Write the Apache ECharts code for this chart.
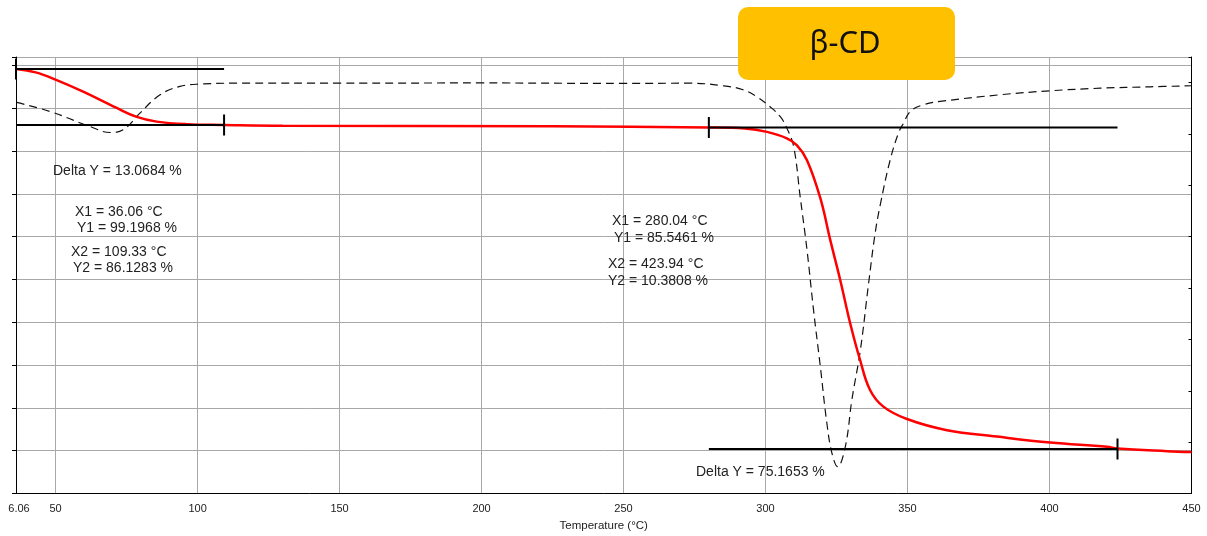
<!DOCTYPE html>
<html>
<head>
<meta charset="utf-8">
<script src="https://cdn.jsdelivr.net/npm/echarts@6/dist/echarts.min.js"></script>
<style>
html,body{margin:0;padding:0;background:#fff;}
#chart{width:1207px;height:536px;}
</style>
</head>
<body>
<div id="chart"></div>
<script>
// ---- Data ----
// TGA curve (weight %, left axis)
const tgaTemp = [36.06, 43, 50.4, 59.7, 71.5, 78.6, 85.6, 96.2, 109.3, 130, 225, 280, 292.8, 300.5, 307.5, 311.0, 314.6, 319.3, 322.8, 326.3, 329.8, 333.3, 336.8, 341.5, 349.8, 363.9, 381.5, 400.3, 420.3, 423.9, 441.4, 450];
const tgaWeight = [99.2, 98.4, 96.6, 93.9, 90.1, 88.0, 86.9, 86.3, 86.13, 85.95, 85.8, 85.55, 85.3, 84.5, 83.0, 81.4, 77.9, 69.0, 59.2, 49.9, 39.8, 31.2, 24.2, 20.3, 17.4, 14.8, 13.3, 11.9, 10.9, 10.5, 9.9, 9.7];
// DTG curve (derivative, right axis)
const dtgTemp = [36.3, 48.0, 62.1, 69.2, 73.8, 79.7, 86.8, 93.8, 100.9, 118.5, 150, 200, 250, 273.5, 285.1, 292.1, 297.0, 301.6, 305.2, 307.5, 309.9, 312.2, 314.6, 316.9, 319.3, 321.6, 323.4, 325.4, 328.1, 330.4, 333.4, 336.3, 338.6, 340.4, 343.9, 346.8, 348.6, 351.0, 355.6, 361.5, 382.7, 400.3, 417.9, 435.5, 450];
const dtgValue = [-0.154, -0.224, -0.341, -0.388, -0.367, -0.237, -0.094, -0.029, -0.011, -0.003, -0.004, -0.002, -0.006, -0.004, -0.024, -0.055, -0.110, -0.188, -0.265, -0.354, -0.497, -0.889, -1.302, -1.770, -2.212, -2.653, -2.887, -2.991, -2.835, -2.471, -2.082, -1.562, -1.172, -0.951, -0.601, -0.393, -0.315, -0.224, -0.172, -0.146, -0.094, -0.063, -0.043, -0.032, -0.024];
// Step analyses: [X1, Y1, X2, Y2, DeltaY]
const step1 = [36.06, 99.1968, 109.33, 86.1283, 13.0684];
const step2 = [280.04, 85.5461, 423.94, 10.3808, 75.1653];
// Axis settings
const xMin = 36.06, xMax = 450;
const yLeftMin = 0, yLeftMax = 102, yLeftInterval = 10;
const yRightMin = -3.2, yRightMax = 0.2, yRightInterval = 0.4;
const xTitle = 'Temperature (°C)';
const badge = 'β-CD';

// ---- Build ----
const zip = (a, b) => a.map((v, i) => [v, b[i]]);
const tickHalf = 2.45;
function stepLines(s) {
  const [x1, y1, x2, y2] = s;
  return [
    [[x1, y1], [x2, y1]],
    [[x1, y2], [x2, y2]],
    [[x1, y1 - tickHalf], [x1, y1 + tickHalf]],
    [[x2, y2 - tickHalf], [x2, y2 + tickHalf]]
  ];
}
const segs = stepLines(step1).concat(stepLines(step2));
const segSeries = segs.map(seg => ({
  type: 'line', xAxisIndex: 0, yAxisIndex: 0, data: seg, symbol: 'none',
  lineStyle: {color: '#000', width: 2}, silent: true, z: 5, animation: false
}));

const fmt = (v, d) => v.toFixed(d);
const txtStyle = {fontFamily: '"Liberation Sans", Arial, sans-serif', fontSize: 14, fill: '#222'};
function T(left, cy, text) {
  return {type: 'text', x: left, y: cy, style: Object.assign({text: text, verticalAlign: 'middle'}, txtStyle), z: 10};
}
const texts = [
  T(53, 171, 'Delta Y = ' + fmt(step1[4], 4) + ' %'),
  T(75, 212, 'X1 = ' + fmt(step1[0], 2) + ' °C'),
  T(77, 228, 'Y1 = ' + fmt(step1[1], 4) + ' %'),
  T(71, 252, 'X2 = ' + fmt(step1[2], 2) + ' °C'),
  T(73, 268, 'Y2 = ' + fmt(step1[3], 4) + ' %'),
  T(612, 221, 'X1 = ' + fmt(step2[0], 2) + ' °C'),
  T(614, 238, 'Y1 = ' + fmt(step2[1], 4) + ' %'),
  T(608, 264, 'X2 = ' + fmt(step2[2], 2) + ' °C'),
  T(608, 281, 'Y2 = ' + fmt(step2[3], 4) + ' %'),
  T(696, 472, 'Delta Y = ' + fmt(step2[4], 4) + ' %')
];

const chart = echarts.init(document.getElementById('chart'), null, {renderer: 'canvas'});
chart.setOption({
  animation: false,
  backgroundColor: '#fff',
  grid: {left: 16, right: 15.5, top: 57, bottom: 42.5, containLabel: false, outerBoundsMode: 'none'},
  xAxis: {
    type: 'value', min: xMin, max: xMax, splitNumber: 8,
    name: xTitle, nameLocation: 'middle', nameGap: 25,
    nameTextStyle: {fontFamily: '"Liberation Sans", Arial, sans-serif', fontSize: 11.5, color: '#222'},
    axisLine: {show: true, lineStyle: {color: '#000', width: 1}},
    axisTick: {show: false},
    axisLabel: {
      fontFamily: '"Liberation Sans", Arial, sans-serif', fontSize: 11, color: '#222', margin: 10,
      showMinLabel: true, showMaxLabel: true, hideOverlap: false,
      formatter: v => (Math.abs(v - xMin) < 1e-6 ? '{m|6.06}' : String(v)),
      rich: {m: {fontFamily: '"Liberation Sans", Arial, sans-serif', fontSize: 11, color: '#222', padding: [0, 0, 0, 6]}}
    },
    splitLine: {show: true, lineStyle: {color: '#a8a8a8', width: 1}}
  },
  yAxis: [
    {
      type: 'value', position: 'left', min: yLeftMin, max: yLeftMax, interval: yLeftInterval,
      axisLine: {show: true, lineStyle: {color: '#000', width: 1}},
      axisTick: {show: true, inside: false, length: 4, lineStyle: {color: '#000'}},
      axisLabel: {show: false},
      splitLine: {show: true, lineStyle: {color: '#a8a8a8', width: 1}}
    },
    {
      type: 'value', position: 'right', min: yRightMin, max: yRightMax, interval: yRightInterval,
      axisLine: {show: true, lineStyle: {color: '#000', width: 1}},
      axisTick: {show: true, inside: true, length: 3, lineStyle: {color: '#000'}},
      axisLabel: {show: false},
      splitLine: {show: false}
    }
  ],
  series: [
    {
      name: 'DTG', type: 'line', yAxisIndex: 1, data: zip(dtgTemp, dtgValue),
      symbol: 'none', smooth: 0.4,
      lineStyle: {color: '#111', width: 1.2, type: [8, 5]}, z: 3
    },
    {
      name: 'TGA', type: 'line', yAxisIndex: 0, data: zip(tgaTemp, tgaWeight),
      symbol: 'none', smooth: 0.4,
      lineStyle: {color: '#ff0000', width: 2.5}, z: 4
    }
  ].concat(segSeries),
  graphic: [
    {
      type: 'rect', x: 738, y: 7, z: 20,
      shape: {x: 0, y: 0, width: 217, height: 73, r: 10},
      style: {fill: '#FFC000'}
    },
    {
      type: 'text', z: 21, x: 845, y: 44,
      style: {text: badge, fontFamily: '"Noto Sans", "Open Sans", sans-serif', fontSize: 31, fill: '#111', align: 'center', verticalAlign: 'middle'}
    }
  ].concat(texts)
});
</script>
</body>
</html>
